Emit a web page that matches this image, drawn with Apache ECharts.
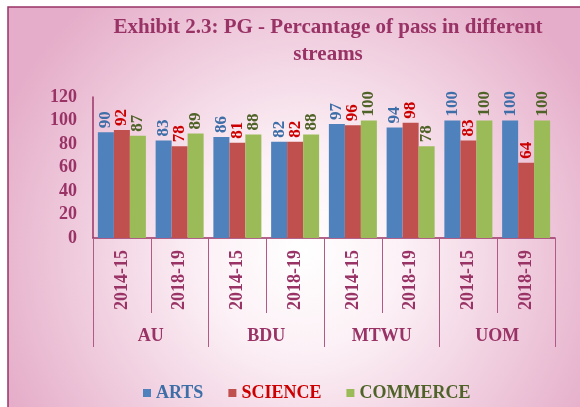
<!DOCTYPE html>
<html><head><meta charset="utf-8">
<script src="https://cdn.jsdelivr.net/npm/echarts@6/dist/echarts.min.js"></script>
<style>html,body{margin:0;padding:0;background:#fff}#c{width:580px;height:407px}</style>
</head><body><div id="c"></div>
<script>
const universities = ['AU', 'BDU', 'MTWU', 'UOM'];
const years = ['2014-15', '2018-19', '2014-15', '2018-19', '2014-15', '2018-19', '2014-15', '2018-19'];
const arts = [90, 83, 86, 82, 97, 94, 100, 100];
const science = [92, 78, 81, 82, 96, 98, 83, 64];
const commerce = [87, 89, 88, 88, 100, 78, 100, 100];
const seriesNames = ['ARTS', 'SCIENCE', 'COMMERCE'];
const titleText = 'Exhibit 2.3: PG - Percantage of pass in different\nstreams';

const FONT = "'Liberation Serif', 'Times New Roman', serif";
const MAG = '#993366';
const barColors = ['#4f81bd', '#c0504d', '#9bbb59'];
const labelColors = ['#3e6ea8', '#cc0000', '#4f6228'];

const chart = echarts.init(document.getElementById('c'));
const dataSets = [arts, science, commerce];

chart.setOption({
  animation: false,
  backgroundColor: '#ffffff',
  graphic: [
    {
      type: 'rect', z: -100,
      shape: { x: 8, y: 7, width: 590, height: 420 },
      style: {
        fill: {
          type: 'radial', x: 0.5, y: 0.58, r: 0.78,
          colorStops: [
            { offset: 0, color: '#ffffff' },
            { offset: 0.3, color: '#fcf1f6' },
            { offset: 1, color: '#e5adc9' }
          ]
        },
        stroke: MAG, lineWidth: 1.5
      }
    },
    {
      type: 'text', z: 10,
      style: {
        text: titleText, x: 328, y: 14, align: 'center',
        font: 'bold 21px ' + FONT, fill: MAG, lineHeight: 27
      }
    }
  ],
  legend: {
    data: seriesNames.map((n, i) => ({ name: n, textStyle: { color: labelColors[i] } })),
    left: 138, top: 379, icon: 'rect', itemWidth: 8, itemHeight: 8, itemGap: 25,
    textStyle: { fontFamily: FONT, fontWeight: 'bold', fontSize: 18 }
  },
  grid: { left: 93, right: 25, top: 97, bottom: 169, containLabel: false },
  xAxis: [
    {
      type: 'category', data: years, position: 'bottom',
      axisLine: { lineStyle: { color: MAG, width: 1.5 } },
      axisTick: { show: true, length: 75, lineStyle: { color: '#b05a85', width: 1 } },
      axisLabel: { rotate: 90, margin: 12, color: MAG, fontFamily: FONT, fontWeight: 'bold', fontSize: 18, interval: 0 },
      splitLine: { show: false }
    },
    {
      type: 'category', data: universities, position: 'bottom',
      axisLine: { show: false },
      axisTick: { show: true, length: 109, lineStyle: { color: '#b05a85', width: 1 } },
      axisLabel: { margin: 89, color: MAG, fontFamily: FONT, fontWeight: 'bold', fontSize: 18, interval: 0 },
      splitLine: { show: false }
    }
  ],
  yAxis: {
    type: 'value', min: 0, max: 120, interval: 20,
    axisLine: { show: true, lineStyle: { color: MAG, width: 1.5 } },
    axisTick: { show: false },
    splitLine: { show: false },
    axisLabel: { margin: 16, color: MAG, fontFamily: FONT, fontWeight: 'bold', fontSize: 18 }
  },
  series: seriesNames.map((n, i) => ({
    name: n, type: 'bar', xAxisIndex: 0, data: dataSets[i],
    barWidth: 16, barGap: '0%',
    itemStyle: { color: barColors[i] },
    label: {
      show: true, position: 'top', rotate: 90, align: 'left', verticalAlign: 'middle', distance: 4,
      color: labelColors[i], fontFamily: FONT, fontWeight: 'bold', fontSize: 17
    }
  }))
});
</script>
</body></html>
